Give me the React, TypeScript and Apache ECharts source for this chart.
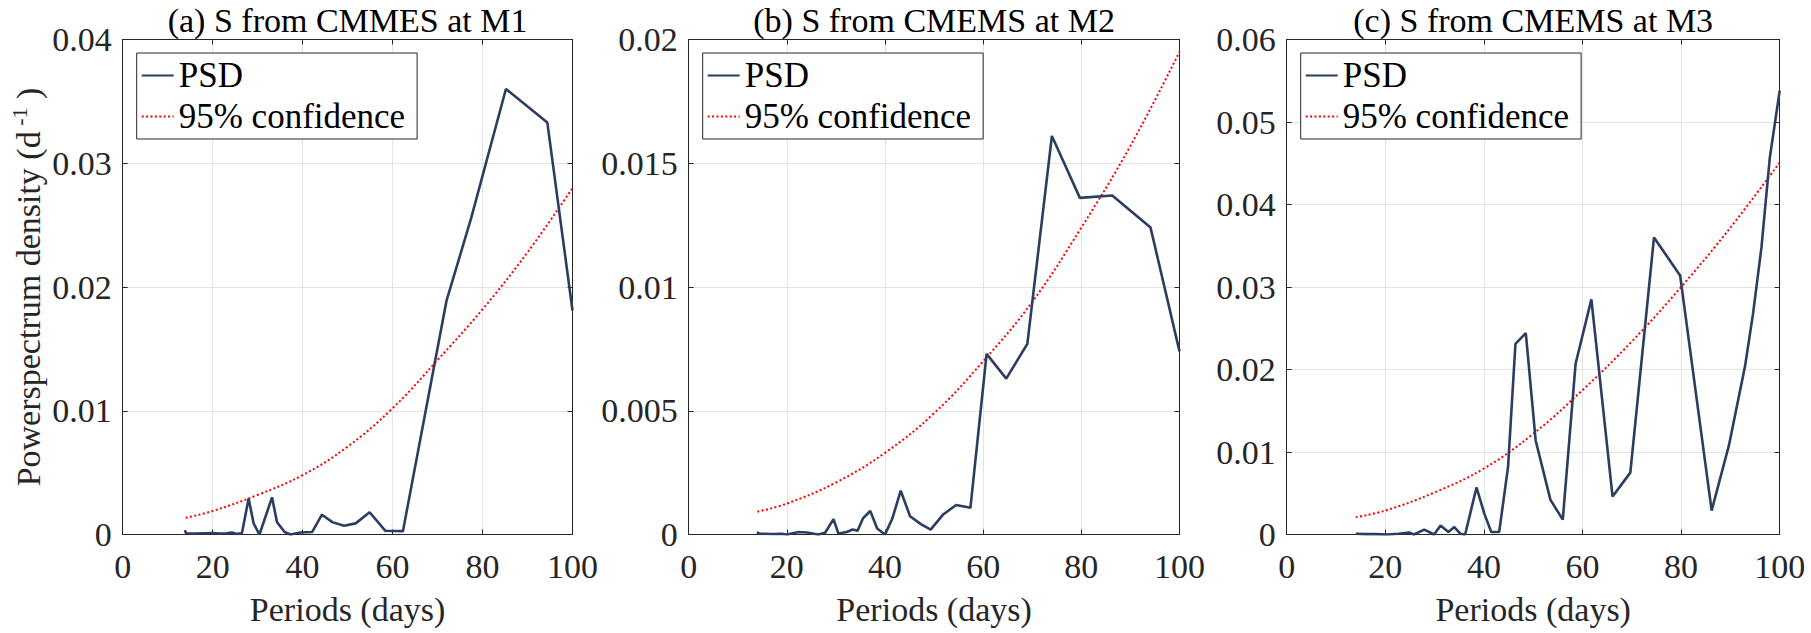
import { useEffect, useRef } from 'react';
import * as echarts from 'echarts';

// periods (days) and PSD, one pair of arrays per station
const periodsM1 = [13.8, 14.1, 16, 18, 20, 21.5, 23, 24.3, 25.4, 26.5, 28.0, 29.1, 30.4, 33.2, 34.3, 36.0, 37.3, 39.5, 42.1, 44.3, 46.6, 49.2, 51.8, 54.9, 58.4, 62.3, 72.0, 77.5, 85.2, 94.4, 100];
const psdM1 = [0.00035, 0.0001, 0.00008, 0.0001, 0.00012, 0.00008, 0.0001, 0.00016, 0.00005, 0.0001, 0.0029, 0.0009, 0.0, 0.0030, 0.0010, 0.0002, 0.0, 0.00016, 0.0002, 0.0016, 0.0010, 0.0007, 0.0009, 0.0018, 0.0003, 0.00027, 0.0189, 0.0256, 0.0360, 0.0333, 0.0181];

const periodsM2 = [13.9, 14.5, 17, 19, 20, 22.4, 24.1, 26.4, 27.8, 29.5, 30.5, 32.2, 33.4, 34.4, 35.5, 37.0, 38.4, 40.0, 41.5, 43.2, 45.1, 47.3, 49.3, 51.9, 54.5, 57.4, 60.7, 64.7, 69.0, 74.0, 79.7, 86.3, 94.1, 100];
const psdM2 = [0.0001, 0.00003, 0.00002, 0.00003, 0.0, 0.0001, 0.00008, 0.0, 0.00007, 0.00062, 0.00004, 0.0001, 0.0002, 0.00015, 0.00065, 0.00095, 0.00024, 0.0, 0.00065, 0.00177, 0.00074, 0.00042, 0.0002, 0.00082, 0.00119, 0.00108, 0.0073, 0.0063, 0.0077, 0.0161, 0.0136, 0.0137, 0.0124, 0.0074];

const periodsM3 = [14.0, 16, 18, 20.3, 22.7, 24.8, 25.8, 27.9, 29.9, 31.2, 32.8, 34.0, 35.2, 36.2, 38.5, 40.1, 41.5, 43.1, 44.9, 46.4, 48.5, 50.5, 53.5, 56.0, 58.6, 61.8, 66.1, 69.7, 74.5, 79.8, 86.2, 89.7, 93.0, 94.6, 96.3, 98.0, 100];
const psdM3 = [0.0001, 0.00005, 0.00005, 0.0, 0.0001, 0.00024, 0.0, 0.0006, 0.0, 0.0011, 0.0003, 0.0009, 0.0001, 0.0, 0.0057, 0.0025, 0.0003, 0.0003, 0.0082, 0.0231, 0.0244, 0.0114, 0.0042, 0.0018, 0.0207, 0.0285, 0.0046, 0.0075, 0.0360, 0.0314, 0.0029, 0.0108, 0.0205, 0.0268, 0.0348, 0.0457, 0.0538];

// 95% confidence level
const confPeriods = [14, 20, 30, 40, 50, 60, 70, 80, 90, 100];
const confM1 = [0.00135, 0.0019, 0.0032, 0.0048, 0.0071, 0.0102, 0.0141, 0.0182, 0.0228, 0.028];
const confM2 = [0.00092, 0.00125, 0.0021, 0.0033, 0.0049, 0.0070, 0.0094, 0.0124, 0.0157, 0.0195];
const confM3 = [0.0021, 0.0029, 0.0051, 0.0080, 0.0122, 0.0175, 0.0234, 0.0300, 0.0372, 0.0451];

const titles = ['(a) S from CMMES at M1', '(b) S from CMEMS at M2', '(c) S from CMEMS at M3'];
const yMax = [0.04, 0.02, 0.06];
const yStep = [0.01, 0.005, 0.01];
const xTicks = [0, 20, 40, 60, 80, 100];

const FONT = "'Liberation Serif', 'Times New Roman', serif";
const INK = '#262626';
const PSD_COLOR = '#2b3d61';

// layout of the three axes boxes (px)
const GRID_LEFT = [122.7, 688.7, 1286.7];
const GRID_WIDTH = [449.8, 490.8, 493];
const GRID_TOP = 39.5;
const GRID_HEIGHT = 495;

const pair = (xs: number[], ys: number[]) => xs.map((x, i) => [x, ys[i]]);

function App() {
  const ref = useRef<HTMLDivElement>(null);

  useEffect(() => {
    if (!ref.current) return;
    const chart = echarts.init(ref.current, null, { renderer: 'svg' });

    const psd = [pair(periodsM1, psdM1), pair(periodsM2, psdM2), pair(periodsM3, psdM3)];
    const conf = [pair(confPeriods, confM1), pair(confPeriods, confM2), pair(confPeriods, confM3)];

    const grids = [0, 1, 2].map(i => ({
      left: GRID_LEFT[i],
      top: GRID_TOP,
      width: GRID_WIDTH[i],
      height: GRID_HEIGHT,
    }));

    // bottom axes carry labels, top axes only close the box with inward ticks
    const baseX = (i: number, top: boolean) => ({
      type: 'value',
      gridIndex: i,
      position: top ? 'top' : 'bottom',
      min: xTicks[0],
      max: xTicks[xTicks.length - 1],
      interval: 20,
      name: top ? '' : 'Periods (days)',
      nameLocation: 'middle',
      nameGap: 58,
      nameTextStyle: { fontFamily: FONT, fontSize: 34, color: INK },
      axisLine: { show: true, onZero: false, lineStyle: { color: INK, width: 1 } },
      axisTick: { show: true, inside: true, length: 5, lineStyle: { color: INK } },
      axisLabel: { show: !top, margin: 15, fontFamily: FONT, fontSize: 34, color: INK },
      splitLine: { show: !top, lineStyle: { color: '#e3e3e3', width: 1 } },
    });

    const baseY = (i: number, right: boolean) => ({
      type: 'value',
      gridIndex: i,
      position: right ? 'right' : 'left',
      min: 0,
      max: yMax[i],
      interval: yStep[i],
      name: !right && i === 0 ? '{n|Powerspectrum density (d}{sup| -1}{n| )}' : '',
      nameLocation: 'middle',
      nameGap: 74,
      nameTextStyle: {
        fontFamily: FONT,
        fontSize: 34,
        color: INK,
        rich: {
          n: { fontFamily: FONT, fontSize: 34, color: INK, lineHeight: 40 },
          sup: { fontFamily: FONT, fontSize: 22, color: INK, verticalAlign: 'top', lineHeight: 40 },
        },
      },
      axisLine: { show: true, onZero: false, lineStyle: { color: INK, width: 1 } },
      axisTick: { show: true, inside: true, length: 5, lineStyle: { color: INK } },
      axisLabel: { show: !right, margin: 11, fontFamily: FONT, fontSize: 34, color: INK },
      splitLine: { show: !right, lineStyle: { color: '#e3e3e3', width: 1 } },
    });

    const series: any[] = [];
    [0, 1, 2].forEach(i => {
      series.push({
        name: 'PSD',
        type: 'line',
        xAxisIndex: i,
        yAxisIndex: i,
        data: psd[i],
        symbol: 'none',
        lineStyle: { color: PSD_COLOR, width: 2.6 },
        itemStyle: { color: PSD_COLOR },
        z: 3,
      });
      series.push({
        name: '95% confidence',
        type: 'line',
        xAxisIndex: i,
        yAxisIndex: i,
        data: conf[i],
        smooth: 0.4,
        symbol: 'none',
        lineStyle: { color: '#ff0000', width: 2, type: [2, 2.4] },
        itemStyle: { color: '#ff0000' },
        z: 2,
      });
    });

    const option: any = {
      animation: false,
      backgroundColor: '#ffffff',
      textStyle: { fontFamily: FONT },
      title: [0, 1, 2].map(i => ({
        text: titles[i],
        left: GRID_LEFT[i] + GRID_WIDTH[i] / 2,
        top: 3,
        padding: 0,
        textAlign: 'center',
        textStyle: { fontFamily: FONT, fontSize: 34, fontWeight: 'normal', color: '#000', lineHeight: 34 },
      })),
      legend: [0, 1, 2].map(i => ({
        orient: 'vertical',
        left: GRID_LEFT[i] + 14,
        top: 53,
        data: ['PSD', '95% confidence'],
        itemWidth: 32,
        itemHeight: 12,
        itemGap: 6,
        itemTextGap: 2,
        padding: [5, 12, 5, 4],
        borderColor: INK,
        borderWidth: 1,
        backgroundColor: '#ffffff',
        selectedMode: false,
        itemStyle: { opacity: 0 },
        textStyle: { fontFamily: FONT, fontSize: 35, color: '#000' },
      })),
      grid: grids,
      xAxis: [0, 1, 2].map(i => baseX(i, false)).concat([0, 1, 2].map(i => baseX(i, true))),
      yAxis: [0, 1, 2].map(i => baseY(i, false)).concat([0, 1, 2].map(i => baseY(i, true))),
      series,
    };

    chart.setOption(option);
    return () => chart.dispose();
  }, []);

  return (
    <div
      ref={ref}
      style={{ position: 'absolute', left: 0, top: 0, width: 1811, height: 633, background: '#fff' }}
    />
  );
}

export default App;
